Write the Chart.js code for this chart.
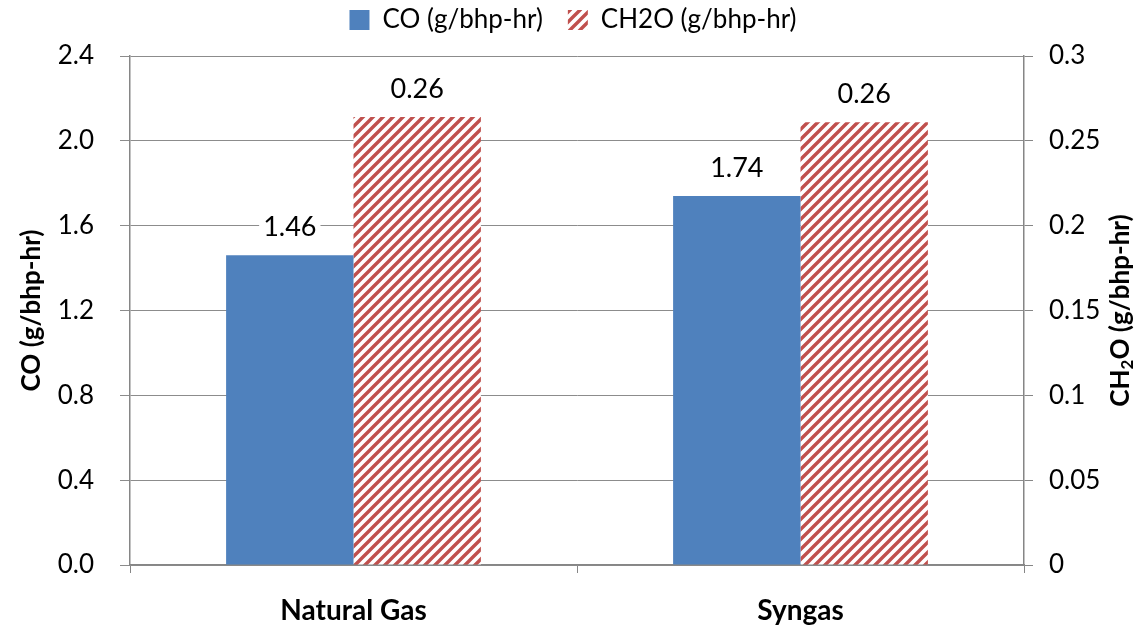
<!DOCTYPE html>
<html>
<head>
<meta charset="utf-8">
<script src="https://cdn.jsdelivr.net/npm/chart.js@4"></script>
<style>
html,body{margin:0;padding:0;background:#fff;}
#wrap{width:1146px;height:630px;position:relative;}
</style>
</head>
<body>
<div id="wrap"><canvas id="c" width="1146" height="630"></canvas></div>
<script>
const categories = ['Natural Gas', 'Syngas'];
const coValues = [1.46, 1.74];
const ch2oValues = [0.264, 0.261];
const coLabels = ['1.46', '1.74'];
const ch2oLabels = ['0.26', '0.26'];
const coTickLabels = ['0.0', '0.4', '0.8', '1.2', '1.6', '2.0', '2.4'];
const ch2oTickLabels = ['0', '0.05', '0.1', '0.15', '0.2', '0.25', '0.3'];
const seriesNames = ['CO (g/bhp-hr)', 'CH2O (g/bhp-hr)'];

const FONT = 'Lato';
const AX = '#868686';
const LEGEND_PAD = 25;

function hatch() {
  const c = document.createElement('canvas');
  c.width = 10; c.height = 10;
  const x = c.getContext('2d');
  x.fillStyle = '#ffffff';
  x.fillRect(0, 0, 10, 10);
  x.strokeStyle = '#c0504d';
  x.lineWidth = 3.4;
  x.beginPath();
  x.moveTo(-5, 5); x.lineTo(5, -5);
  x.moveTo(0, 10); x.lineTo(10, 0);
  x.moveTo(5, 15); x.lineTo(15, 5);
  x.stroke();
  return x.createPattern(c, 'repeat');
}
const pattern = hatch();

const legendHeightPlugin = {
  id: 'legendHeight',
  beforeLayout(chart) {
    const lg = chart.legend;
    if (lg && !lg._fixedFit) {
      const orig = lg.fit;
      lg.fit = function () { orig.call(this); this.height = 56; };
      lg._fixedFit = true;
    }
  },
  afterLayout(chart) {
    const lg = chart.legend;
    if (lg) { lg.top -= (LEGEND_PAD - 7); lg.bottom -= (LEGEND_PAD - 7); }
  }
};

const labelPlugin = {
  id: 'barLabels',
  afterDatasetsDraw(chart) {
    const ctx = chart.ctx;
    const sets = [coLabels, ch2oLabels];
    ctx.save();
    ctx.font = '27px ' + FONT;
    ctx.textAlign = 'center';
    ctx.textBaseline = 'middle';
    chart.data.datasets.forEach((ds, di) => {
      const meta = chart.getDatasetMeta(di);
      meta.data.forEach((bar, i) => {
        const t = sets[di][i];
        const w = ctx.measureText(t).width + 8;
        const y = bar.y - 28;
        ctx.fillStyle = '#fff';
        ctx.fillRect(bar.x - w / 2, y - 13, w, 26);
        ctx.fillStyle = '#000';
        ctx.fillText(t, bar.x, y);
      });
    });
    ctx.restore();
  }
};

const titlePlugin = {
  id: 'axisTitles',
  afterDraw(chart) {
    const ctx = chart.ctx;
    const midY = (chart.chartArea.top + chart.chartArea.bottom) / 2;
    ctx.save();
    ctx.fillStyle = '#000';
    ctx.textBaseline = 'middle';
    ctx.save();
    ctx.translate(32, midY);
    ctx.rotate(-Math.PI / 2);
    ctx.font = 'bold 26px ' + FONT;
    ctx.textAlign = 'center';
    ctx.fillText('CO (g/bhp-hr)', 0, 0);
    ctx.restore();
    ctx.save();
    ctx.translate(1121, midY);
    ctx.rotate(-Math.PI / 2);
    const big = 'bold 26px ' + FONT, small = 'bold 17px ' + FONT;
    ctx.font = big; const w1 = ctx.measureText('CH').width;
    const w3 = ctx.measureText('O (g/bhp-hr)').width;
    ctx.font = small; const w2 = ctx.measureText('2').width;
    let x = -(w1 + w2 + w3) / 2;
    ctx.textAlign = 'left';
    ctx.font = big; ctx.fillText('CH', x, 0); x += w1;
    ctx.font = small; ctx.fillText('2', x, 7); x += w2;
    ctx.font = big; ctx.fillText('O (g/bhp-hr)', x, 0);
    ctx.restore();
    ctx.restore();
  }
};

new Chart(document.getElementById('c'), {
  type: 'bar',
  data: {
    labels: categories,
    datasets: [
      { label: seriesNames[0], data: coValues, backgroundColor: '#4f81bd', yAxisID: 'y',
        categoryPercentage: 0.57, barPercentage: 1.0 },
      { label: seriesNames[1], data: ch2oValues, backgroundColor: pattern, yAxisID: 'y1',
        categoryPercentage: 0.57, barPercentage: 1.0 }
    ]
  },
  options: {
    responsive: false,
    animation: false,
    devicePixelRatio: 1,
    layout: { padding: { top: 0, left: 0, right: 0, bottom: 0 } },
    plugins: {
      legend: {
        position: 'top',
        labels: { font: { family: FONT, size: 26 }, color: '#000', boxWidth: 20, boxHeight: 20, padding: LEGEND_PAD }
      },
      tooltip: { enabled: false }
    },
    scales: {
      x: {
        grid: { display: true, drawOnChartArea: false, color: AX, tickLength: 8, offset: true },
        border: { color: AX, width: 1.5 },
        ticks: { font: { family: FONT, size: 28, weight: 'bold' }, color: '#000', padding: 21 },
        afterFit(s) { s.height = 65; }
      },
      y: {
        position: 'left', min: 0, max: 2.4,
        ticks: { stepSize: 0.4, font: { family: FONT, size: 26 }, color: '#000', padding: 26,
          callback: (v, i) => coTickLabels[i] },
        grid: { color: '#8c8c8c', lineWidth: 1, tickLength: 10 },
        border: { color: AX, width: 1.5 },
        afterFit(s) { s.width = 130; }
      },
      y1: {
        position: 'right', min: 0, max: 0.3,
        ticks: { stepSize: 0.05, font: { family: FONT, size: 26 }, color: '#000', padding: 16,
          callback: (v, i) => ch2oTickLabels[i] },
        grid: { drawOnChartArea: false, color: AX, tickLength: 9 },
        border: { color: AX, width: 1.5 },
        afterFit(s) { s.width = 122; }
      }
    }
  },
  plugins: [legendHeightPlugin, labelPlugin, titlePlugin]
});
</script>
</body>
</html>
